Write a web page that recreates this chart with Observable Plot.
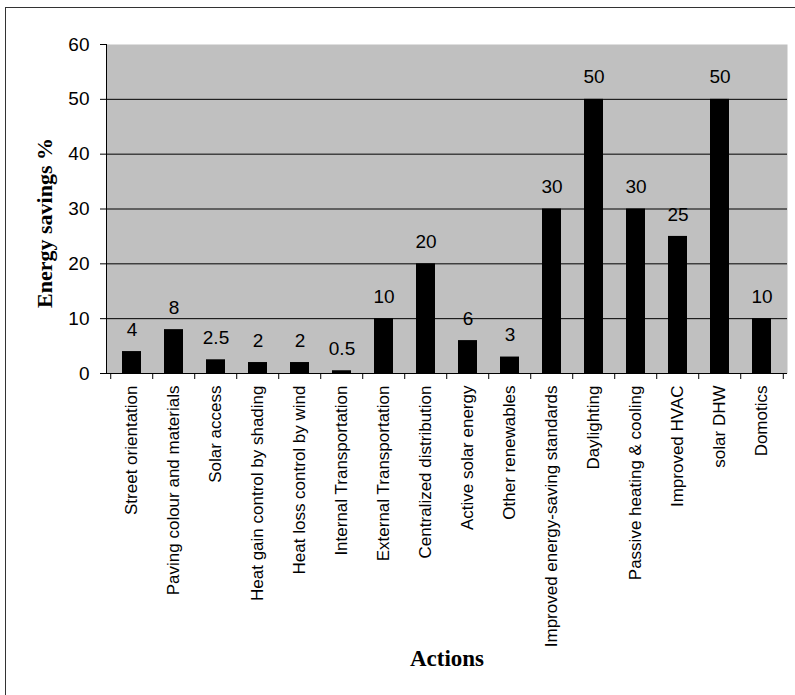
<!DOCTYPE html>
<html>
<head>
<meta charset="utf-8">
<script src="https://cdn.jsdelivr.net/npm/d3@7"></script>
<script src="https://cdn.jsdelivr.net/npm/@observablehq/plot@0.6"></script>
<style>
  html, body { margin: 0; padding: 0; background: #fff; }
  #wrap { position: relative; width: 795px; height: 695px; overflow: hidden; }
  #border { position: absolute; left: 5px; top: 7px; width: 800px; height: 700px;
            border-left: 1px solid #333; border-top: 1px solid #333; box-sizing: border-box; }
  #chart { position: absolute; left: 0; top: 0; }
</style>
</head>
<body>
<div id="wrap"><div id="border"></div><div id="chart"></div></div>
<script>
const actions = [
  "Street orientation",
  "Paving colour and materials",
  "Solar access",
  "Heat gain control by shading",
  "Heat loss control by wind",
  "Internal Transportation",
  "External Transportation",
  "Centralized distribution",
  "Active solar energy",
  "Other renewables",
  "Improved energy-saving standards",
  "Daylighting",
  "Passive heating & cooling",
  "Improved HVAC",
  "solar DHW",
  "Domotics"
];
const savings = [4, 8, 2.5, 2, 2, 0.5, 10, 20, 6, 3, 30, 50, 30, 25, 50, 10];
const yTicks = [0, 10, 20, 30, 40, 50, 60];
const gridValues = [10, 20, 30, 40, 50];

const data = actions.map((a, i) => ({action: a, value: savings[i]}));

const W = 795, H = 695;
const mL = 106, mR = 8, mT = 44, mB = 322;
const step = (W - mL - mR) / actions.length;

const chart = Plot.plot({
  width: W,
  height: H,
  marginLeft: mL,
  marginRight: mR,
  marginTop: mT,
  marginBottom: mB,
  style: {fontFamily: "'Liberation Sans', Arial, sans-serif", fontSize: "19px", background: "transparent", color: "#000"},
  x: {domain: actions, paddingInner: 0.54, paddingOuter: 0.27},
  y: {domain: [0, 60]},
  marks: [
    Plot.frame({fill: "#c0c0c0", stroke: null}),
    Plot.ruleY(gridValues, {stroke: "#000", strokeWidth: 1}),
    Plot.barY(data, {x: "action", y: "value", fill: "#000"}),
    Plot.text(data, {x: "action", y: "value", text: d => String(d.value), dy: -22, fontSize: 19, fill: "#000"}),
    Plot.frame({anchor: "left", stroke: "#000"}),
    Plot.ruleY([0], {stroke: "#000"}),
    Plot.ruleX(actions, {x: d => d, y1: 0, y2: 0, insetBottom: -6, dx: -step / 2, stroke: "#000"}),
    Plot.ruleX([actions[actions.length - 1]], {x: d => d, y1: 0, y2: 0, insetBottom: -6, dx: step / 2, stroke: "#000"}),
    Plot.axisY({ticks: yTicks, tickSize: 6, tickPadding: 11, fontSize: 19, label: null, stroke: "#000"}),
    Plot.axisX({tickRotate: -90, tickSize: 0, tickPadding: 12, fontSize: 17, label: null}),
    Plot.text(["Energy savings %"], {frameAnchor: "left", textAnchor: "middle", rotate: -90, dx: -62, dy: 14, fontSize: 22, fontWeight: "bold", fontFamily: "'Liberation Serif', 'Times New Roman', serif", fill: "#000"}),
    Plot.text(["Actions"], {frameAnchor: "bottom", dy: 292, fontSize: 23, fontWeight: "bold", fontFamily: "'Liberation Serif', 'Times New Roman', serif", fill: "#000"})
  ]
});
document.getElementById("chart").appendChild(chart);
</script>
</body>
</html>
